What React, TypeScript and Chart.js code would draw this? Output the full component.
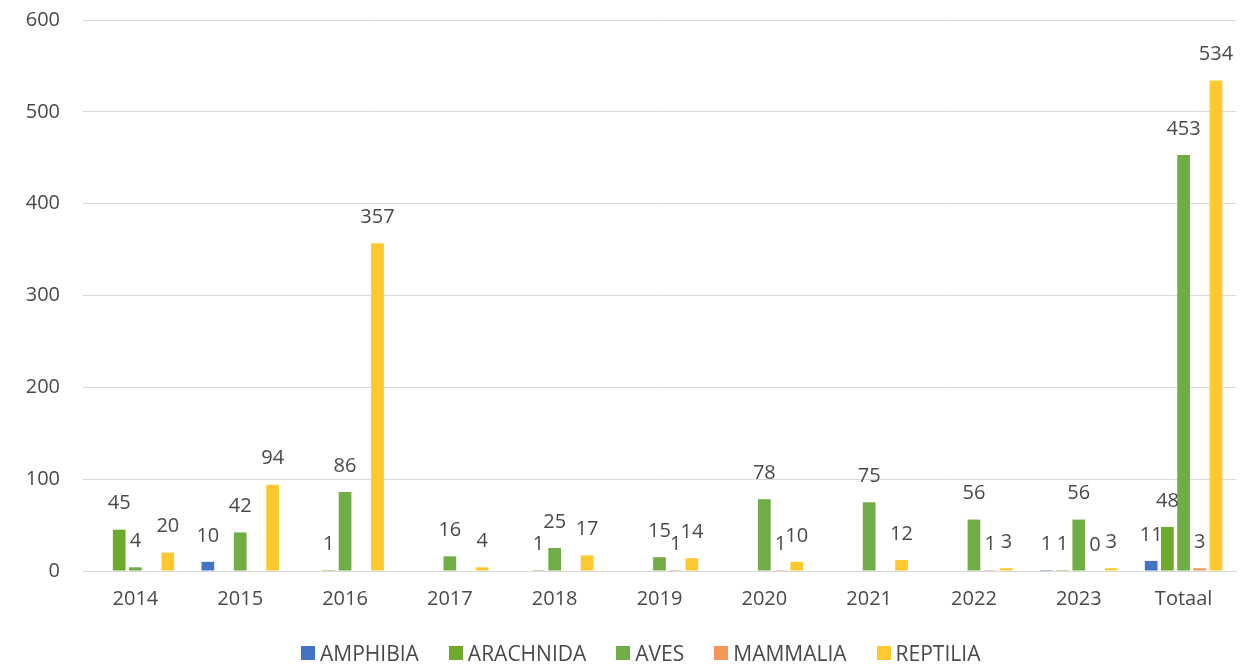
import React, { useEffect, useRef } from "react";
import { Chart, registerables } from "chart.js";

Chart.register(...registerables);

const categories = ["2014", "2015", "2016", "2017", "2018", "2019", "2020", "2021", "2022", "2023", "Totaal"];
const amphibia = [null, 10, null, null, null, null, null, null, null, 1, 11];
const arachnida = [45, null, 1, null, 1, null, null, null, null, 1, 48];
const aves = [4, 42, 86, 16, 25, 15, 78, 75, 56, 56, 453];
const mammalia = [null, null, null, null, null, 1, 1, null, 1, 0, 3];
const reptilia = [20, 94, 357, 4, 17, 14, 10, 12, 3, 3, 534];
const yTicks = [0, 100, 200, 300, 400, 500, 600];

const seriesNames = ["AMPHIBIA", "ARACHNIDA", "AVES", "MAMMALIA", "REPTILIA"];
const seriesColors = ["#4472C4", "#6DAA2C", "#70AD47", "#F4965A", "#FFC830"];

const FONT = "'Open Sans', sans-serif";
const TEXT = "#4a4a4a";

const labelPlugin = {
  id: "barLabels",
  afterDatasetsDraw(chart: any) {
    const ctx = chart.ctx;
    ctx.save();
    ctx.font = `20px ${FONT}`;
    ctx.fillStyle = TEXT;
    ctx.textAlign = "center";
    ctx.textBaseline = "middle";
    chart.data.datasets.forEach((ds: any, i: number) => {
      const meta = chart.getDatasetMeta(i);
      meta.data.forEach((el: any, j: number) => {
        const v = ds.data[j];
        if (v === null || v === undefined) return;
        ctx.fillText(String(v), el.x, el.y - 26);
      });
    });
    ctx.restore();
  },
};

export default function App() {
  const ref = useRef<HTMLCanvasElement>(null);
  useEffect(() => {
    document.body.style.margin = "0";
    const all = [amphibia, arachnida, aves, mammalia, reptilia];
    const chart = new Chart(ref.current!, {
      type: "bar",
      data: {
        labels: categories,
        datasets: all.map((data, i) => ({
          label: seriesNames[i],
          data,
          backgroundColor: seriesColors[i],
          borderWidth: 0,
          categoryPercentage: 0.773,
          barPercentage: 0.785,
        })),
      },
      options: {
        animation: false,
        responsive: false,
        maintainAspectRatio: false,
        layout: { autoPadding: false, padding: { top: 19, right: 10, left: 0, bottom: 38 } },
        plugins: {
          legend: { display: false },
          tooltip: { enabled: false },
        },
        scales: {
          x: {
            grid: { display: false, drawTicks: false },
            border: { color: "#d9d9d9", width: 1 },
            ticks: { color: TEXT, font: { family: FONT, size: 20 }, padding: 16 },
          },
          y: {
            min: 0,
            max: 600,
            afterBuildTicks: (axis: any) => {
              axis.ticks = yTicks.map((v) => ({ value: v }));
            },
            afterFit: (axis: any) => {
              axis.width = 83;
            },
            grid: { color: "#d9d9d9", drawTicks: false },
            border: { display: false },
            ticks: { color: TEXT, font: { family: FONT, size: 20 }, padding: 23 },
          },
        },
      },
      plugins: [labelPlugin],
    });
    return () => chart.destroy();
  }, []);
  return (
    <div style={{ position: "relative", width: 1246, height: 665, overflow: "hidden" }}>
      <canvas
        ref={ref}
        width={1246}
        height={680}
        style={{ display: "block", position: "absolute", left: 0, top: -15 }}
      />
      <div
        style={{
          position: "absolute",
          left: 301,
          top: 639,
          height: 28,
          display: "flex",
          alignItems: "center",
          gap: 30,
          fontFamily: FONT,
          fontSize: 21,
          color: TEXT,
          whiteSpace: "nowrap",
        }}
      >
        {seriesNames.map((n, i) => (
          <div key={n} style={{ display: "flex", alignItems: "center", gap: 5 }}>
            <span style={{ width: 14, height: 14, background: seriesColors[i], display: "inline-block" }} />
            <span>{n}</span>
          </div>
        ))}
      </div>
    </div>
  );
}
